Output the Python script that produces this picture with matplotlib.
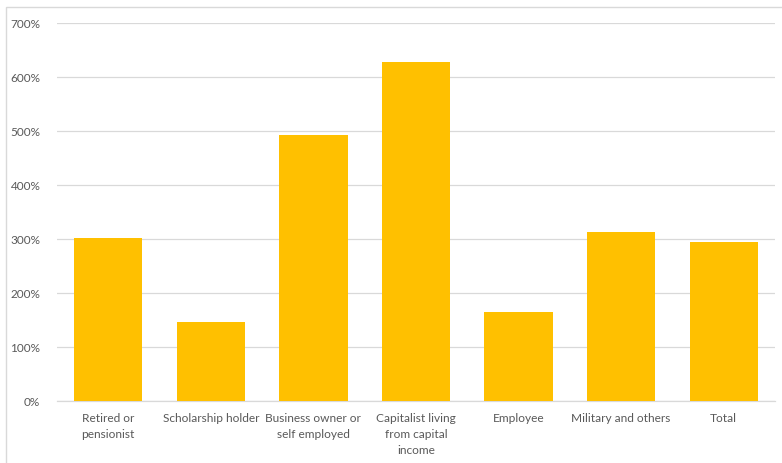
import matplotlib
matplotlib.use("Agg")
import matplotlib.pyplot as plt
from matplotlib.patches import Rectangle
from matplotlib.ticker import FuncFormatter

categories = ["Retired or\npensionist", "Scholarship holder", "Business owner or\nself employed",
              "Capitalist living\nfrom capital\nincome", "Employee", "Military and others", "Total"]
values = [3.01, 1.47, 4.93, 6.27, 1.65, 3.13, 2.95]
yticks = [0, 1, 2, 3, 4, 5, 6, 7]

plt.rcParams['font.family'] = ['Lato', 'DejaVu Sans']

fig = plt.figure(figsize=(7.82, 4.63), dpi=100)
W, H = 782, 463
ax = fig.add_axes([57 / W, 1 - 401 / H, (775 - 57) / W, (401 - 23) / H])

x = list(range(len(categories)))
ax.bar(x, values, width=0.665, color="#FFC000", zorder=3)
ax.set_xlim(-0.5, len(categories) - 0.5)
ax.set_ylim(0, 7)
ax.set_yticks(yticks)
ax.yaxis.set_major_formatter(FuncFormatter(lambda v, p: f"{int(round(v * 100))}%"))
ax.set_xticks(x)
ax.set_xticklabels(categories, fontsize=8.6, color="#595959", linespacing=1.5, va="top")
ax.tick_params(axis="y", labelsize=8.5, labelcolor="#595959", length=0, pad=12)
ax.tick_params(axis="x", length=0, pad=9)
ax.grid(axis="y", color="#d9d9d9", linewidth=0.9, zorder=0)
for s in ["left", "right", "top"]:
    ax.spines[s].set_visible(False)
ax.spines["bottom"].set_color("#d9d9d9")
ax.spines["bottom"].set_linewidth(0.9)

# chart frame (left and top borders)
fig.patches.append(Rectangle((6 / W, -0.05), 2.0, 1 - 7 / H + 0.05, transform=fig.transFigure,
                             fill=False, edgecolor="#d9d9d9", linewidth=1.0))

fig.savefig("out.png", dpi=100)
